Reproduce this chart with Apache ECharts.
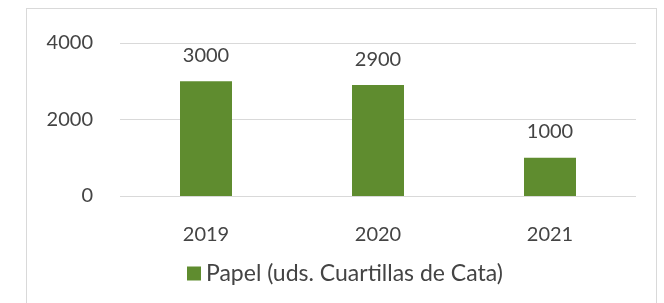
<!DOCTYPE html>
<html>
<head>
<meta charset="utf-8">
<script src="https://cdn.jsdelivr.net/npm/echarts@6/dist/echarts.min.js"></script>
<style>
  html, body { margin: 0; padding: 0; background: #fff; }
  #frame { position: absolute; left: 26px; top: 8px; width: 631px; height: 300px;
           border: 1px solid #d9d9d9; border-bottom: none; box-sizing: border-box; }
  #chart { width: 664px; height: 303px; position: absolute; left: 0; top: 0; }
</style>
</head>
<body>
<div id="frame"></div>
<div id="chart"></div>
<script>
var years = ['2019', '2020', '2021'];
var papel = [3000, 2900, 1000];
var yTicks = [0, 2000, 4000];
var seriesName = 'Papel (uds. Cuartillas de Cata)';

var myChart = echarts.init(document.getElementById('chart'));

var font = 'Lato, "Open Sans", sans-serif';
var textColor = '#444444';

var option = {
    animation: false,
    textStyle: { fontFamily: font },
    grid: {
        left: 120,
        right: 28,
        top: 43,
        bottom: 107
    },
    legend: {
        data: [seriesName],
        left: 182,
        top: 257,
        itemWidth: 14,
        itemHeight: 14,
        itemGap: 6,
        icon: 'rect',
        textStyle: { fontSize: 23, color: textColor, fontFamily: font }
    },
    xAxis: {
        type: 'category',
        data: years,
        axisLine: { show: false },
        axisTick: { show: false },
        axisLabel: { fontSize: 20, color: textColor, margin: 29, fontFamily: font }
    },
    yAxis: {
        type: 'value',
        min: yTicks[0],
        max: yTicks[yTicks.length - 1],
        interval: 2000,
        axisLabel: {
            fontSize: 20, color: textColor, margin: 27, fontFamily: font,
            formatter: function (v) { return String(v); }
        },
        splitLine: { lineStyle: { color: '#d9d9d9', width: 1 } }
    },
    series: [
        {
            name: seriesName,
            type: 'bar',
            barWidth: 52,
            itemStyle: { color: '#5f8c2f' },
            label: {
                show: true,
                position: 'top',
                distance: 16,
                fontSize: 20,
                color: textColor,
                fontFamily: font
            },
            data: papel
        }
    ]
};

myChart.setOption(option);
</script>
</body>
</html>
